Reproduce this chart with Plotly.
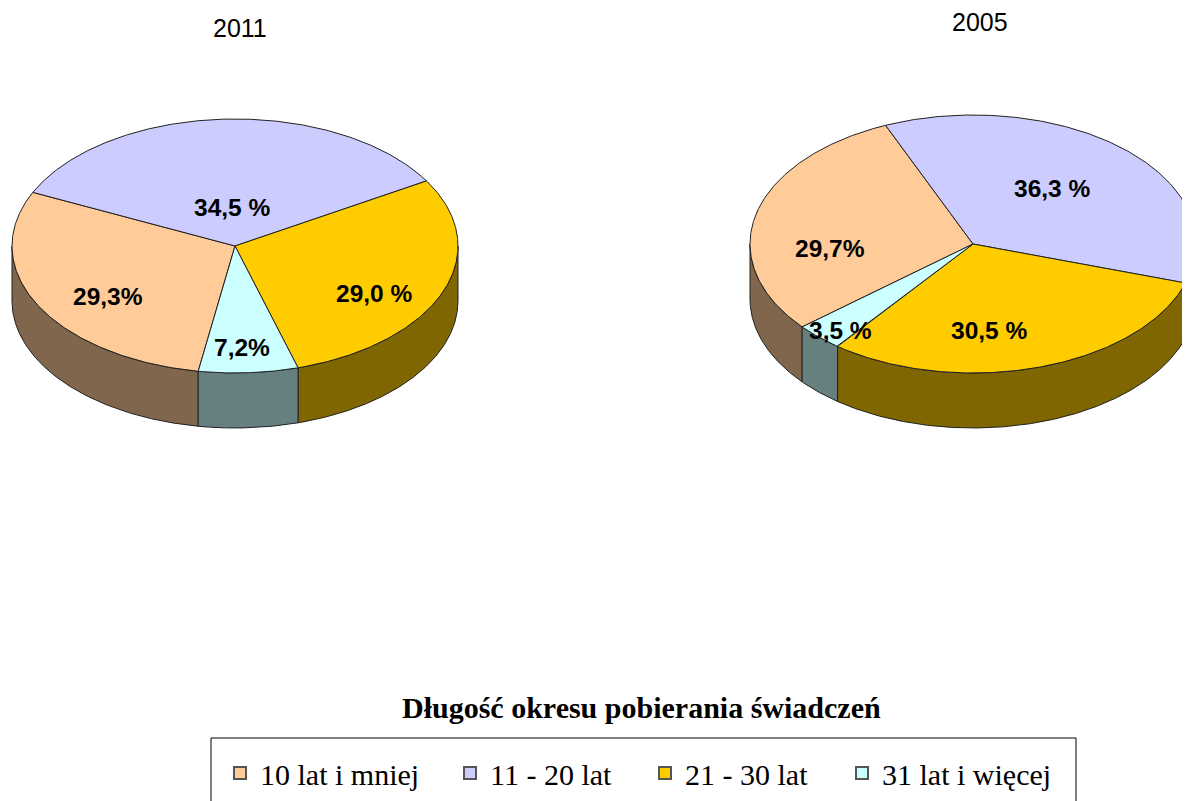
import numpy as np
import plotly.graph_objects as go

# ---- data ----
categories = ["10 lat i mniej", "11 - 20 lat", "21 - 30 lat", "31 lat i więcej"]
years = ["2011", "2005"]
values_2011 = [29.3, 34.5, 29.0, 7.2]
values_2005 = [29.7, 36.3, 30.5, 3.5]
labels_2011 = ["29,3%", "34,5 %", "29,0 %", "7,2%"]
labels_2005 = ["29,7%", "36,3 %", "30,5 %", "3,5 %"]
legend_title = "Długość okresu pobierania świadczeń"

# ---- style ----
top_colors = ["#FFCC99", "#CCCCFF", "#FFCC00", "#CCFFFF"]
side_colors = ["#80664D", "#666680", "#806600", "#668080"]
edge_color = "#202020"
OFF = 8  # page body margin
W, H = 1190 - OFF, 801 - OFF

pies = [
    dict(values=values_2011, labels=labels_2011, title=years[0],
         cx=235, cy=246, rx=223, ry=127, depth=55, start=260.5,
         title_xy=(240, 28),
         label_xy=[(108, 296), (232, 207), (374, 293), (242, 347)]),
    dict(values=values_2005, labels=labels_2005, title=years[1],
         cx=973, cy=244, rx=223, ry=129, depth=55, start=220.0,
         title_xy=(980, 22),
         label_xy=[(830, 248), (1052, 188), (989, 330), (840, 330)]),
]

fig = go.Figure()


def slice_angles(values, start):
    total = float(sum(values))
    out = []
    a = start
    for v in values:
        span = 360.0 * v / total
        out.append((a, a - span))  # clockwise
        a -= span
    return out


side_traces = []
top_traces = []
for p in pies:
    cx, cy, rx, ry, d = p["cx"], p["cy"], p["rx"], p["ry"], p["depth"]
    for i, (a_hi, a_lo) in enumerate(slice_angles(p["values"], p["start"])):
        # top face
        ts = np.linspace(a_hi, a_lo, 200)
        tr = np.radians(ts)
        xs = np.concatenate([[cx], cx + rx * np.cos(tr), [cx]])
        ys = np.concatenate([[cy], cy - ry * np.sin(tr), [cy]])
        top_traces.append(go.Scatter(
            x=xs, y=ys, mode="lines", fill="toself",
            fillcolor=top_colors[i], line=dict(color=edge_color, width=1),
            hoverinfo="skip", showlegend=False))
        # side face (front half only)
        ts = np.linspace(a_lo, a_hi, 400)
        k = np.arange(np.ceil(a_lo / 180.0), np.floor(a_hi / 180.0) + 1) * 180.0
        ts = np.unique(np.concatenate([ts, k]))
        front = np.sin(np.radians(ts)) <= 1e-9
        runs = []
        cur = []
        for t, f in zip(ts, front):
            if f:
                cur.append(t)
            else:
                if len(cur) > 1:
                    runs.append(cur)
                cur = []
        if len(cur) > 1:
            runs.append(cur)
        for run in runs:
            tr = np.radians(np.array(run))
            x = cx + rx * np.cos(tr)
            yt = cy - ry * np.sin(tr)
            xs = np.concatenate([x, x[::-1], [x[0]]])
            ys = np.concatenate([yt, (yt + d)[::-1], [yt[0]]])
            side_traces.append(go.Scatter(
                x=xs, y=ys, mode="lines", fill="toself",
                fillcolor=side_colors[i], line=dict(color=edge_color, width=1),
                hoverinfo="skip", showlegend=False))

for t in side_traces + top_traces:
    fig.add_trace(t)

# legend entries
legend_widths = [185, 150, 152, 200]
for i, c in enumerate(categories):
    fig.add_trace(go.Scatter(
        x=[None], y=[None], mode="markers", name=c,
        marker=dict(symbol="square", size=15, color=top_colors[i],
                    line=dict(color="#555555", width=1)),
        legendwidth=legend_widths[i], showlegend=True))

annotations = []
for p in pies:
    annotations.append(dict(
        x=p["title_xy"][0], y=p["title_xy"][1], xref="x", yref="y",
        text=p["title"], showarrow=False,
        font=dict(family="Liberation Sans, Arial", size=25, color="#000000")))
    for lab, (lx, ly) in zip(p["labels"], p["label_xy"]):
        annotations.append(dict(
            x=lx, y=ly, xref="x", yref="y", text="<b>%s</b>" % lab,
            showarrow=False,
            font=dict(family="Liberation Sans, Arial", size=24.5, color="#000000")))

annotations.append(dict(
    x=641, y=707, xref="x", yref="y", text="<b>%s</b>" % legend_title,
    showarrow=False,
    font=dict(family="Liberation Serif, Times New Roman", size=30, color="#000000")))

fig.update_layout(
    width=W, height=H, autosize=False,
    margin=dict(l=0, r=0, t=0, b=0),
    paper_bgcolor="white", plot_bgcolor="white",
    xaxis=dict(range=[OFF, 1190], visible=False, fixedrange=True),
    yaxis=dict(range=[801, OFF], visible=False, fixedrange=True),
    annotations=annotations,
    shapes=[dict(type="rect", xref="x", yref="y", x0=211, x1=1076, y0=738, y1=815,
                 line=dict(color="#000000", width=1), fillcolor="rgba(0,0,0,0)",
                 layer="below")],
    showlegend=True,
    legend=dict(orientation="h", x=(220 - OFF) / W, xanchor="left",
                y=1 - (773 - OFF) / H, yanchor="middle",
                bgcolor="rgba(0,0,0,0)", borderwidth=0,
                font=dict(family="Liberation Serif, Times New Roman", size=30,
                          color="#000000"),
                itemsizing="constant", traceorder="normal"),
)

fig.write_html("out.html")
